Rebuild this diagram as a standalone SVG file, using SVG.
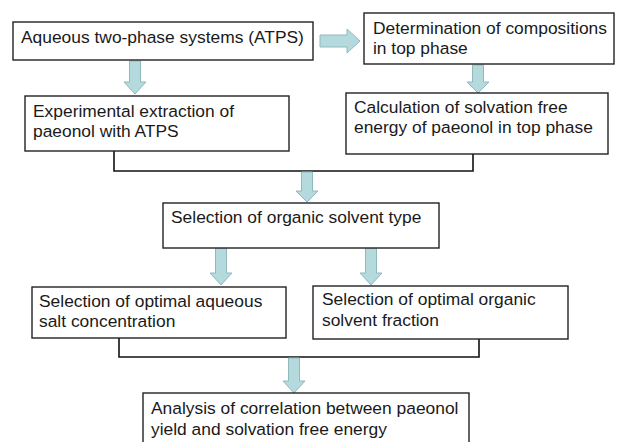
<svg xmlns="http://www.w3.org/2000/svg" width="617" height="442" viewBox="0 0 617 442">
<style>
.box{fill:#fff;stroke:#222;stroke-width:1.4}
.t{font-family:"Liberation Sans",Arial,sans-serif;font-size:17.4px;fill:#1a1a1a}
.arr{fill:#b5dadd;stroke:#8fb9bd;stroke-width:1}
.ln{fill:none;stroke:#111;stroke-width:1.6}
</style>
<defs>
<path id="vd" d="M-5.5,0 H5.5 V-11 H11 L0,0 L-11,-11 H-5.5 Z"/>
</defs>
<rect width="617" height="442" fill="#fff"/>
<g id="connectors">
<path class="ln" d="M114,151 V171 H473 V154"/>
<path class="ln" d="M119,338 V357 H479 V339"/>
<path class="arr" d="M129.5,61 H140.5 V82 H146 L135,94 L124,82 H129.5 Z"/>
<path class="arr" d="M472.5,65 H483.5 V82 H489 L478,93 L467,82 H472.5 Z"/>
<path class="arr" d="M301.5,172 H312.5 V191 H318 L307,202 L296,191 H301.5 Z"/>
<path class="arr" d="M215.5,248 H226.5 V273 H232 L221,285 L210,273 H215.5 Z"/>
<path class="arr" d="M365.5,248 H376.5 V273 H382 L371,285 L360,273 H365.5 Z"/>
<path class="arr" d="M288.5,358 H299.5 V381 H305 L294,393 L283,381 H288.5 Z"/>
<path class="arr" d="M320,35 H347 V29 L360,41 L347,53 V47 H320 Z"/>
</g>
<g id="n1"><rect class="box" x="13" y="22" width="300" height="38"/><text class="t" x="21" y="43">Aqueous two-phase systems (ATPS)</text></g>
<g id="n2"><rect class="box" x="364" y="13" width="250" height="51"/><text class="t" x="373" y="34">Determination of compositions</text><text class="t" x="373" y="54">in top phase</text></g>
<g id="n3"><rect class="box" x="25" y="96" width="264" height="55"/><text class="t" x="33" y="117">Experimental extraction of</text><text class="t" x="33" y="137">paeonol with ATPS</text></g>
<g id="n4"><rect class="box" x="346" y="93" width="262" height="61"/><text class="t" x="354" y="113">Calculation of solvation free</text><text class="t" x="354" y="133">energy of paeonol in top phase</text></g>
<g id="n5"><rect class="box" x="163" y="203" width="276" height="45"/><text class="t" x="171" y="223">Selection of organic solvent type</text></g>
<g id="n6"><rect class="box" x="32" y="287" width="254" height="51"/><text class="t" x="39" y="307">Selection of optimal aqueous</text><text class="t" x="39" y="327">salt concentration</text></g>
<g id="n7"><rect class="box" x="313" y="286" width="255" height="53"/><text class="t" x="322" y="305">Selection of optimal organic</text><text class="t" x="322" y="326">solvent fraction</text></g>
<g id="n8"><rect class="box" x="143" y="393" width="326" height="60"/><text class="t" x="151" y="414">Analysis of correlation between paeonol</text><text class="t" x="151" y="435">yield and solvation free energy</text></g>
</svg>
